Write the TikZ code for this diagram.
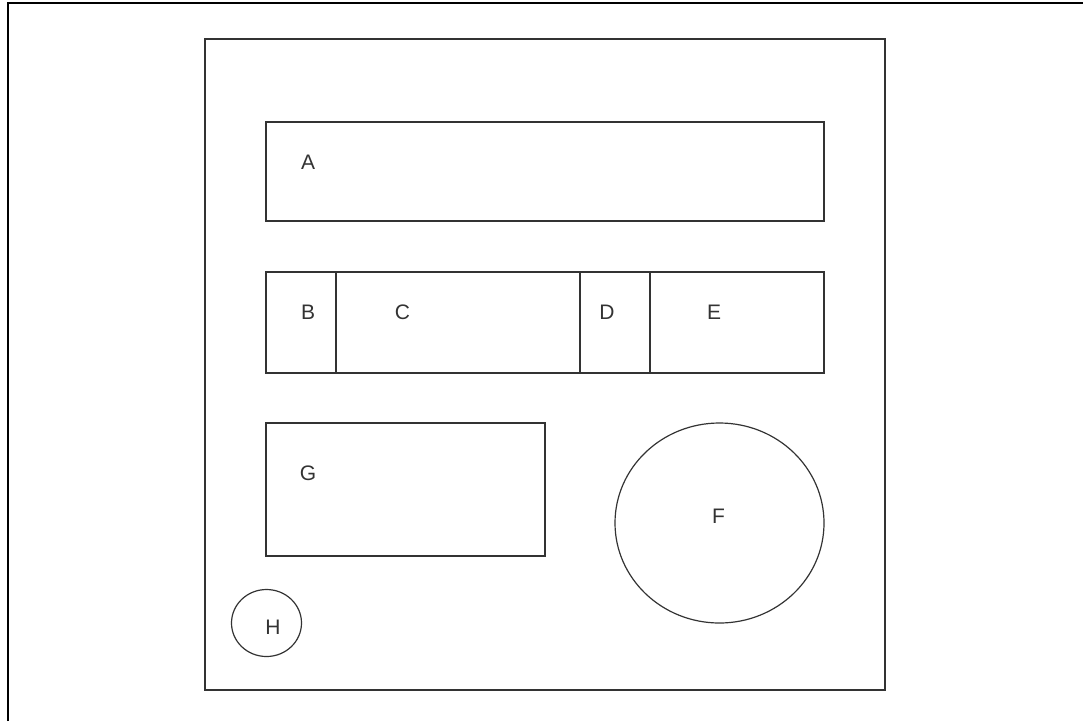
\documentclass[tikz,border=0pt]{standalone}
\usepackage{fontspec}
\setmainfont{Liberation Sans}
\usetikzlibrary{shapes.geometric}
\begin{document}
\begin{tikzpicture}[x=1pt,y=-1pt,
  edge/.style={draw=black!80,line width=1.2pt},
  boxnode/.style={edge,rectangle,inner sep=0pt},
  roundnode/.style={edge,ellipse,inner sep=0pt},
  lbl/.style={inner sep=0pt,text=black!80,font=\fontsize{21}{21}\selectfont}]
\useasboundingbox (0,0) rectangle (1083,721);
\draw[line width=2.2pt,black] (8,721) -- (8,3) -- (1083,3);
% inner frame
\node[boxnode,minimum width=680pt,minimum height=651pt] (frame) at (545,364.5) {};
% A
\node[boxnode,minimum width=558pt,minimum height=99pt] (boxA) at (545,171.5) {};
\node[lbl] (A) at (308,162) {A};
% row B C D E
\node[boxnode,minimum width=70pt,minimum height=101pt] (boxB) at (301,322.5) {};
\node[boxnode,minimum width=244pt,minimum height=101pt] (boxC) at (458,322.5) {};
\node[boxnode,minimum width=70pt,minimum height=101pt] (boxD) at (615,322.5) {};
\node[boxnode,minimum width=174pt,minimum height=101pt] (boxE) at (737,322.5) {};
\node[lbl] (B) at (308,312.5) {B};
\node[lbl] (C) at (402.5,312.5) {C};
\node[lbl] (D) at (607,312.5) {D};
\node[lbl] (E) at (714,312.5) {E};
% G
\node[boxnode,minimum width=279pt,minimum height=133pt] (boxG) at (405.5,489.5) {};
\node[lbl] (G) at (308,473) {G};
% F
\node[roundnode,minimum width=209pt,minimum height=200pt] (circF) at (719.5,523) {};
\node[lbl] (F) at (718.5,516.5) {F};
% H
\node[roundnode,minimum width=70pt,minimum height=67pt] (circH) at (266.5,623) {};
\node[lbl] (H) at (273,627) {H};
\end{tikzpicture}
\end{document}
